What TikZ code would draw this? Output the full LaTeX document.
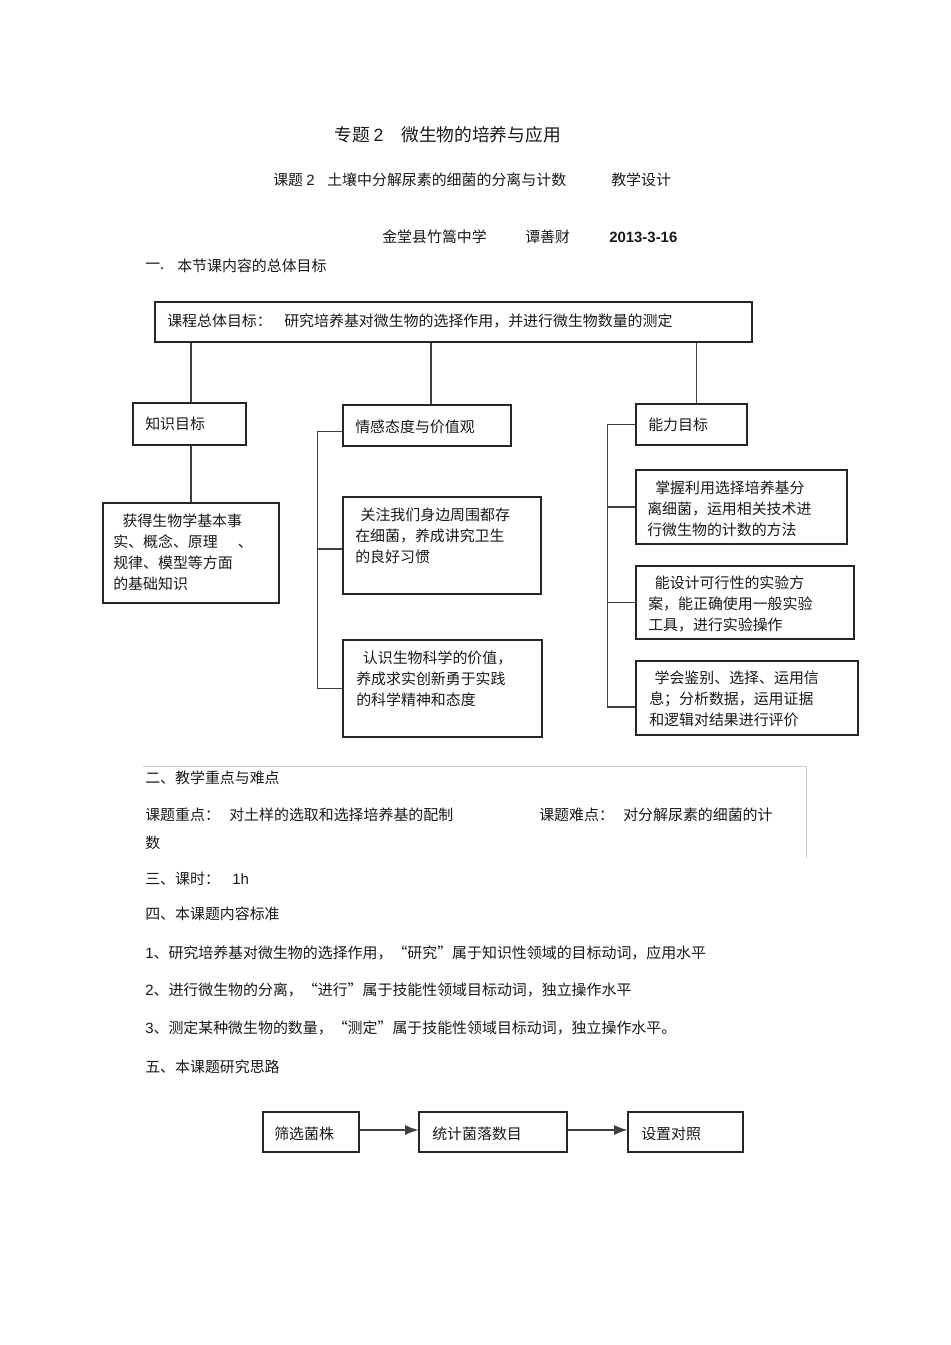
\documentclass[tikz,border=0pt]{standalone}
\usepackage{fontspec}
\setmainfont{Noto Sans CJK SC}
\newfontfamily\lat{Liberation Sans}
\usetikzlibrary{arrows.meta,fit}
\begin{document}
\begin{tikzpicture}[x=0.75pt,y=-0.75pt,
  box/.style={draw=black!85, line width=0.8pt, inner sep=0pt},
  txt/.style={inner sep=0pt, anchor=west, text=black!90, font=\fontsize{11.2pt}{15.75pt}\selectfont},
  ml/.style={txt, anchor=north west, align=left},
  ttl/.style={txt, font=\fontsize{13.3pt}{16pt}\selectfont},
  link/.style={draw=black!75, line width=0.85pt},
  arr/.style={link, -{Latex[length=10pt,width=7.5pt]}},
  tbl/.style={draw=black!20, line width=0.6pt}]
\useasboundingbox (0,0) rectangle (950,1345);
% header
\node[ttl] (t1) at (334,135) {专题 {\lat 2}};
\node[ttl] (t2) at (401,135) {微生物的培养与应用};
\node[txt] (s1) at (273,180) {课题 {\lat 2}};
\node[txt] (s2) at (327,180) {土壤中分解尿素的细菌的分离与计数};
\node[txt] (s3) at (611,180) {教学设计};
\node[txt] (au1) at (382,237) {金堂县竹篙中学};
\node[txt] (au2) at (525,237) {谭善财};
\node[txt] (au3) at (609,237) {\lat\bfseries 2013-3-16};
\node[txt] (h1a) at (145,266) {一.};
\node[txt] (h1b) at (177,266) {本节课内容的总体目标};
% boxes
\node[box, fit={(155,302) (752,342)}] (top) {};
\node[txt] at (167,321) {课程总体目标：};
\node[txt] at (284,321) {研究培养基对微生物的选择作用，并进行微生物数量的测定};
\node[box, fit={(133,403) (246,445)}] (k) {};
\node[txt] at (145,424) {知识目标};
\node[box, fit={(343,405) (511,446)}] (e0) {};
\node[txt] at (355,427) {情感态度与价值观};
\node[box, fit={(636,404) (747,445)}] (a0) {};
\node[txt] at (648,425) {能力目标};
\node[box, fit={(103,503) (279,603)}] (kb) {};
\node[ml] at (113,514) {\hspace{7pt}获得生物学基本事\\实、概念、原理\hspace{1.35em}、\\规律、模型等方面\\的基础知识};
\node[box, fit={(343,497) (541,594)}] (e1) {};
\node[ml] at (355,508) {\hspace{4pt}关注我们身边周围都存\\在细菌，养成讲究卫生\\的良好习惯};
\node[box, fit={(343,640) (542,737)}] (e2) {};
\node[ml] at (356,651) {\hspace{5pt}认识生物科学的价值，\\养成求实创新勇于实践\\的科学精神和态度};
\node[box, fit={(636,470) (847,544)}] (a1) {};
\node[ml] at (647,481) {\hspace{6pt}掌握利用选择培养基分\\离细菌，运用相关技术进\\行微生物的计数的方法};
\node[box, fit={(636,566) (854,639)}] (a2) {};
\node[ml] at (648,576) {\hspace{5pt}能设计可行性的实验方\\案，能正确使用一般实验\\工具，进行实验操作};
\node[box, fit={(636,661) (858,735)}] (a3) {};
\node[ml] at (649,671) {\hspace{4pt}学会鉴别、选择、运用信\\息；分析数据，运用证据\\和逻辑对结果进行评价};
% connectors
\draw[link] (top.south -| kb.north) -- (k.north -| kb.north);
\draw[link] (k.south -| kb.north) -- (kb.north);
\draw[link] ([xshift=3pt]e0.north) -- ([xshift=3pt]e0.north |- top.south);
\draw[link] ([xshift=3.75pt]a0.north) -- ([xshift=3.75pt]a0.north |- top.south);
\coordinate (e0c) at ([yshift=-4.5pt]e0.west);
\coordinate (e1c) at ([yshift=-2.6pt]e1.west);
\draw[link] (e0c) -- ++(-25,0) coordinate (et) |- (e2.west);
\draw[link] (et |- e1c) -- (e1c);
\coordinate (a3c) at ([yshift=-6.75pt]a3.west);
\draw[link] (a0.west) -- ++(-28,0) coordinate (at) |- (a3c);
\draw[link] (at |- a1.west) -- (a1.west);
\draw[link] (at |- a2.west) -- (a2.west);
% section two
\coordinate (tb1) at (143,766);
\coordinate (tb2) at (806,766);
\coordinate (tb3) at (806,858);
\draw[tbl] (tb1) -- (tb2) -- (tb3);
\node[txt] at (145,778) {二、教学重点与难点};
\node[txt] at (145,815) {课题重点：};
\node[txt] at (229,815) {对土样的选取和选择培养基的配制};
\node[txt] at (539,815) {课题难点：};
\node[txt] at (623,815) {对分解尿素的细菌的计};
\node[txt] at (145,843) {数};
\node[txt] at (145,879) {三、课时：};
\node[txt] at (232,879) {\lat 1h};
\node[txt] at (145,914) {四、本课题内容标准};
\node[txt] at (145,953) {{\lat 1}、研究培养基对微生物的选择作用，“研究”属于知识性领域的目标动词，应用水平};
\node[txt] at (145,990) {{\lat 2}、进行微生物的分离，“进行”属于技能性领域目标动词，独立操作水平};
\node[txt] at (145,1028) {{\lat 3}、测定某种微生物的数量，“测定”属于技能性领域目标动词，独立操作水平。};
\node[txt] at (145,1067) {五、本课题研究思路};
% flow
\node[box, fit={(263,1112) (359,1152)}] (f1) {};
\node[txt] at (274,1134) {筛选菌株};
\node[box, fit={(419,1112) (567,1152)}] (f2) {};
\node[txt] at (432,1134) {统计菌落数目};
\node[box, fit={(628,1112) (743,1152)}] (f3) {};
\node[txt] at (641,1134) {设置对照};
\draw[arr] ([yshift=1.5pt]f1.east) -- ([yshift=1.5pt]f2.west);
\draw[arr] ([yshift=1.5pt]f2.east) -- ([yshift=1.5pt]f3.west);
\end{tikzpicture}
\end{document}
